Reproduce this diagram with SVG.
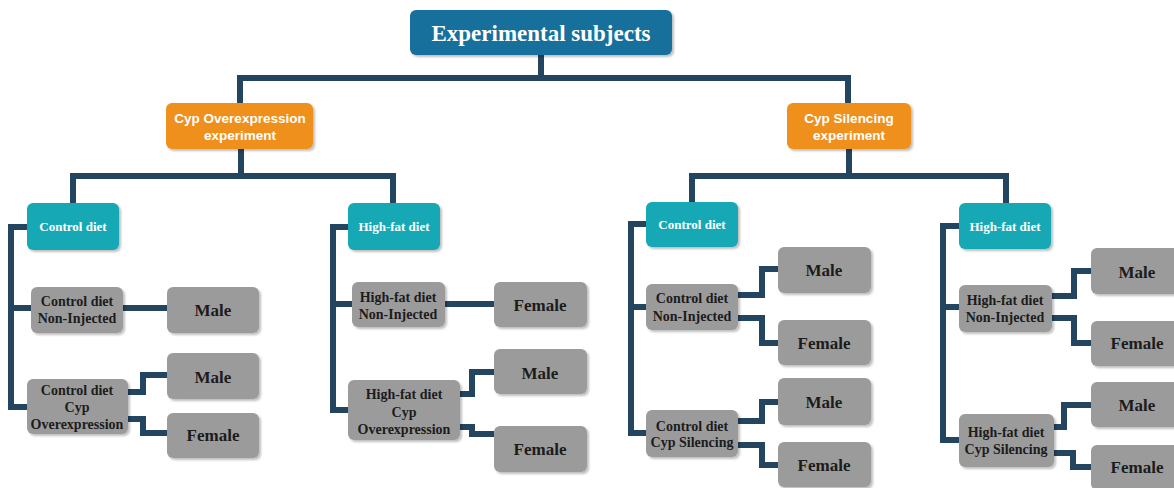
<svg xmlns="http://www.w3.org/2000/svg" width="1174" height="488" viewBox="0 0 1174 488">
<defs>
<filter id="sh" x="-10%" y="-10%" width="125%" height="130%">
<feDropShadow dx="2" dy="2" stdDeviation="1.2" flood-color="#000" flood-opacity="0.25"/>
</filter>
</defs>
<style>
.con{fill:none;stroke:#24455f;stroke-width:6;stroke-linejoin:miter}
.title{fill:#16709b;filter:url(#sh)}
.exp{fill:#f0901f;filter:url(#sh)}
.diet{fill:#17a9b5;filter:url(#sh)}
.grp{fill:#9b9b9b;filter:url(#sh)}
.tt{font-family:"Liberation Serif",serif;font-weight:bold;font-size:23px;fill:#fff;text-anchor:middle}
.te{font-family:"Liberation Sans",Arial,sans-serif;font-weight:bold;font-size:13.5px;fill:#fff;text-anchor:middle}
.td{font-family:"Liberation Serif",serif;font-weight:bold;font-size:13px;fill:#fff;text-anchor:middle}
.tg{font-family:"Liberation Serif",serif;font-weight:bold;font-size:14px;fill:#1c1c1c;text-anchor:middle}
.ts{font-family:"Liberation Serif",serif;font-weight:bold;font-size:17px;fill:#1c1c1c;text-anchor:middle}
</style>
<rect width="1174" height="488" fill="#fff"/>
<g id="connectors">
<path class="con" d="M541,55 V78 M240,103 V78 H848 V103"/>
<path class="con" d="M241,149 V176 M73,203 V176 H393 V203"/>
<path class="con" d="M849,149 V176 M692,202 V176 H1006 V203"/>
<path class="con" d="M27,227 H11 V407 H27 M11,308 H31 M123,308 H167"/>
<path class="con" d="M128,392 H143 V375 H167 M128,419 H143 V433 H167"/>
<path class="con" d="M348,227 H333 V410 H348 M333,304 H352 M445,304 H494"/>
<path class="con" d="M460,394 H472 V372 H494 M460,427 H472 V434 H494"/>
<path class="con" d="M646,224 H631 V433 H646 M631,307 H646"/>
<path class="con" d="M738,295 H762 V269 H778 M738,318 H762 V343 H778"/>
<path class="con" d="M738,421 H762 V402 H778 M738,445 H762 V465 H778"/>
<path class="con" d="M959,226 H943 V440 H959 M943,307 H959"/>
<path class="con" d="M1052,296 H1074 V271 H1091 M1052,318 H1074 V343 H1091"/>
<path class="con" d="M1054,427 H1064 V405 H1091 M1054,453 H1073 V467 H1091"/>
</g>
<g id="root"><rect class="title" x="410" y="10" width="262" height="45" rx="6"/><text class="tt" x="541" y="41">Experimental subjects</text></g>
<g id="exp-over"><rect class="exp" x="166" y="103" width="147" height="46" rx="6"/><text class="te" x="240" y="123">Cyp Overexpression</text><text class="te" x="240" y="140">experiment</text></g>
<g id="exp-sil"><rect class="exp" x="787" y="103" width="124" height="46" rx="6"/><text class="te" x="849" y="123">Cyp Silencing</text><text class="te" x="849" y="140">experiment</text></g>

<g id="a-control"><rect class="diet" x="27" y="203" width="92" height="47" rx="6"/><text class="td" x="73" y="231">Control diet</text></g>
<g id="a-ni"><rect class="grp" x="31" y="287" width="92" height="46" rx="6"/><text class="tg" x="77" y="306">Control diet</text><text class="tg" x="77" y="323">Non-Injected</text></g>
<g id="a-ni-male"><rect class="grp" x="167" y="287" width="92" height="46" rx="6"/><text class="ts" x="213" y="316">Male</text></g>
<g id="a-cyp"><rect class="grp" x="27" y="379" width="101" height="55" rx="6"/><text class="tg" x="77" y="395">Control diet</text><text class="tg" x="77" y="412">Cyp</text><text class="tg" x="77" y="429">Overexpression</text></g>
<g id="a-cyp-male"><rect class="grp" x="167" y="353" width="92" height="46" rx="6"/><text class="ts" x="213" y="383">Male</text></g>
<g id="a-cyp-female"><rect class="grp" x="167" y="413" width="92" height="45" rx="6"/><text class="ts" x="213" y="441">Female</text></g>

<g id="b-hfd"><rect class="diet" x="348" y="203" width="92" height="47" rx="6"/><text class="td" x="394" y="231">High-fat diet</text></g>
<g id="b-ni"><rect class="grp" x="352" y="282" width="93" height="45" rx="6"/><text class="tg" x="398" y="302">High-fat diet</text><text class="tg" x="398" y="319">Non-Injected</text></g>
<g id="b-ni-female"><rect class="grp" x="494" y="282" width="93" height="45" rx="6"/><text class="ts" x="540" y="311">Female</text></g>
<g id="b-cyp"><rect class="grp" x="348" y="380" width="112" height="60" rx="6"/><text class="tg" x="404" y="399">High-fat diet</text><text class="tg" x="404" y="417">Cyp</text><text class="tg" x="404" y="434">Overexpression</text></g>
<g id="b-cyp-male"><rect class="grp" x="494" y="349" width="93" height="45" rx="6"/><text class="ts" x="540" y="379">Male</text></g>
<g id="b-cyp-female"><rect class="grp" x="494" y="426" width="93" height="46" rx="6"/><text class="ts" x="540" y="455">Female</text></g>

<g id="c-control"><rect class="diet" x="646" y="202" width="92" height="45" rx="6"/><text class="td" x="692" y="229">Control diet</text></g>
<g id="c-ni"><rect class="grp" x="646" y="284" width="92" height="46" rx="6"/><text class="tg" x="692" y="303">Control diet</text><text class="tg" x="692" y="321">Non-Injected</text></g>
<g id="c-ni-male"><rect class="grp" x="778" y="247" width="93" height="46" rx="6"/><text class="ts" x="824" y="276">Male</text></g>
<g id="c-ni-female"><rect class="grp" x="778" y="320" width="93" height="45" rx="6"/><text class="ts" x="824" y="349">Female</text></g>
<g id="c-cyp"><rect class="grp" x="646" y="410" width="92" height="47" rx="6"/><text class="tg" x="692" y="431">Control diet</text><text class="tg" x="692" y="447">Cyp Silencing</text></g>
<g id="c-cyp-male"><rect class="grp" x="778" y="378" width="93" height="47" rx="6"/><text class="ts" x="824" y="408">Male</text></g>
<g id="c-cyp-female"><rect class="grp" x="778" y="442" width="93" height="45" rx="6"/><text class="ts" x="824" y="471">Female</text></g>

<g id="d-hfd"><rect class="diet" x="959" y="203" width="92" height="46" rx="6"/><text class="td" x="1005" y="231">High-fat diet</text></g>
<g id="d-ni"><rect class="grp" x="959" y="285" width="93" height="47" rx="6"/><text class="tg" x="1005" y="305">High-fat diet</text><text class="tg" x="1005" y="322">Non-Injected</text></g>
<g id="d-ni-male"><rect class="grp" x="1091" y="248" width="93" height="46" rx="6"/><text class="ts" x="1137" y="278">Male</text></g>
<g id="d-ni-female"><rect class="grp" x="1091" y="321" width="93" height="45" rx="6"/><text class="ts" x="1137" y="349">Female</text></g>
<g id="d-cyp"><rect class="grp" x="959" y="414" width="95" height="53" rx="6"/><text class="tg" x="1006" y="437">High-fat diet</text><text class="tg" x="1006" y="454">Cyp Silencing</text></g>
<g id="d-cyp-male"><rect class="grp" x="1091" y="382" width="93" height="45" rx="6"/><text class="ts" x="1137" y="411">Male</text></g>
<g id="d-cyp-female"><rect class="grp" x="1091" y="445" width="93" height="45" rx="6"/><text class="ts" x="1137" y="473">Female</text></g>
</svg>
